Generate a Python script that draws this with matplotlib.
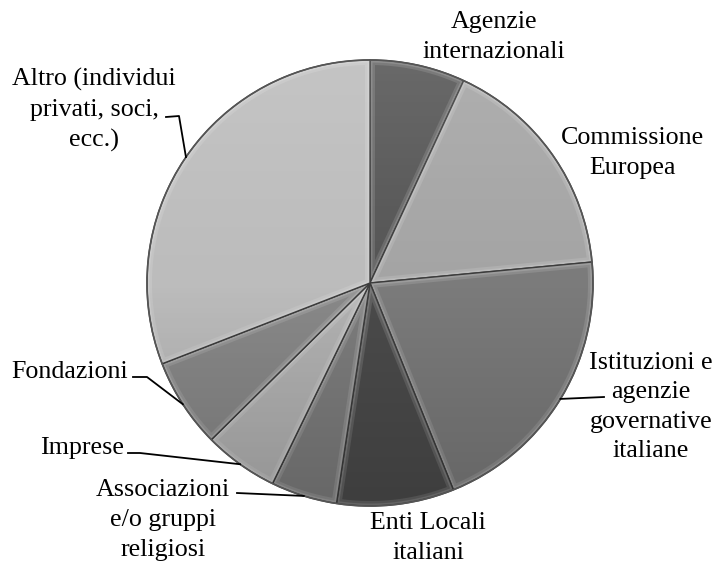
import numpy as np
import matplotlib.pyplot as plt
import matplotlib.patches as mpatches

plt.rcParams['font.family'] = ['Liberation Serif', 'DejaVu Serif']

# Quote per fonte di finanziamento (%), in senso orario dall'alto
etichette = ['Agenzie\ninternazionali', 'Commissione\nEuropea',
             'Istituzioni e\nagenzie\ngovernative\nitaliane',
             'Enti Locali\nitaliani', 'Associazioni\ne/o gruppi\nreligiosi',
             'Imprese', 'Fondazioni', 'Altro (individui\nprivati, soci,\necc.)']
quote = [6.9, 16.6, 20.4, 8.5, 4.8, 5.4, 6.5, 30.9]
grigi = ['#545454', '#a4a4a4', '#7b7b7b', '#4b4b4b',
         '#7d7d7d', '#b3b3b3', '#898989', '#bcbcbc']

# posizione delle etichette (pixel, y verso l'alto) e gomito della linea guida
pos_testo = [(494, 526), (633, 410), (651, 156), (428, 25),
             (163, 43), (82, 115), (70, 191), (94, 453)]
linea = [None, None, [(604, 166)], None, [(237, 70)],
         [(128, 110), (140, 110)], [(133, 186), (147, 186)],
         [(166, 446), (179, 447)]]

cx, cy, r = 370, 280, 223


def schiarisci(col, f):
    c = np.array(plt.matplotlib.colors.to_rgb(col))
    return tuple(c + (1 - c) * f)


def spicchio_interno(t1, t2, d, n=80):
    """Poligono dello spicchio rientrato di d pixel (effetto smusso)"""
    a1, a2 = np.radians(t1), np.radians(t2)
    mezzo = (a2 - a1) / 2
    apice = d / np.sin(mezzo)
    m = (a1 + a2) / 2
    s = np.sqrt((r - d) ** 2 - d ** 2)
    da = np.arctan2(d, s)
    ang = np.linspace(a1 + da, a2 - da, n)
    xs = [cx + apice * np.cos(m)] + list(cx + (r - d) * np.cos(ang))
    ys = [cy + apice * np.sin(m)] + list(cy + (r - d) * np.sin(ang))
    return np.column_stack([xs, ys])


fig = plt.figure(figsize=(7.19, 5.63), dpi=100)
ax = fig.add_axes([0, 0, 1, 1])

chiari = [schiarisci(g, 0.25) for g in grigi]
spicchi, _ = ax.pie(quote, colors=chiari, startangle=90, counterclock=False,
                    center=(cx, cy), radius=r,
                    wedgeprops=dict(edgecolor='#3c3c3c', linewidth=1.0))

for w, g in zip(spicchi, grigi):
    for d, f in [(2.5, 0.12), (5, 0.0)]:
        poli = spicchio_interno(w.theta1, w.theta2, d)
        ax.add_patch(mpatches.Polygon(poli, closed=True,
                                      facecolor=schiarisci(g, f),
                                      edgecolor='none', zorder=2))

# sfumatura verticale sopra la torta
t = np.linspace(0, 1, 256)
sfum = np.zeros((256, 1, 4))
sfum[:, 0, :3] = (t < 0.5)[:, None] * 1.0
sfum[:, 0, 3] = np.where(t < 0.5, (0.5 - t) * 0.25, (t - 0.5) * 0.35)
img = ax.imshow(sfum, extent=[cx - r, cx + r, cy - r, cy + r],
                aspect='auto', origin='upper', zorder=3)
img.set_clip_path(mpatches.Circle((cx, cy), r, transform=ax.transData))
ax.add_patch(mpatches.Circle((cx, cy), r, fill=False,
                             edgecolor='#555555', linewidth=1.2, zorder=4))

for w, testo, p, l in zip(spicchi, etichette, pos_testo, linea):
    ax.text(p[0], p[1], testo, ha='center', va='center',
            fontsize=18.7, linespacing=1.45, color='black')
    if l is None:
        continue
    m = np.radians((w.theta1 + w.theta2) / 2)
    bordo = (cx + r * np.cos(m), cy + r * np.sin(m))
    pts = np.array(l + [bordo])
    ax.plot(pts[:, 0], pts[:, 1], color='black', linewidth=1.3, zorder=5)

ax.set_xlim(0, 719)
ax.set_ylim(0, 563)
ax.axis('off')
plt.savefig('out.png', dpi=100)
